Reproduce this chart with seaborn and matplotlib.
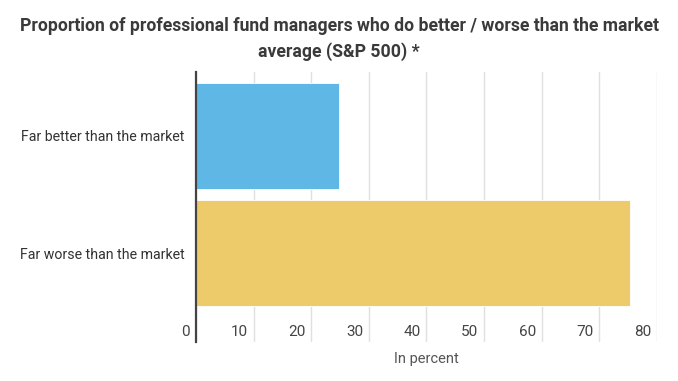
import matplotlib.pyplot as plt
import pandas as pd
import seaborn as sns

categories = ['Far better than the market', 'Far worse than the market']
values = [24.8, 75.4]
colors = ['#5EB7E4', '#EDCB6A']
ticks = [0, 10, 20, 30, 40, 50, 60, 70, 80]

df = pd.DataFrame({'category': categories, 'value': values})

sns.set_style('white')
plt.rcParams['font.family'] = ['Roboto', 'DejaVu Sans']

fig = plt.figure(figsize=(6.78, 3.81), dpi=100)
ax = fig.add_axes([0.289, 0.1024, 0.680, 0.7086])

sns.barplot(data=df, y='category', x='value', hue='category', palette=colors,
            order=categories, width=0.9, legend=False, ax=ax, zorder=3,
            saturation=1, edgecolor='#ffffff', linewidth=0.6)

ax.set_xlim(0, 80)
ax.set_ylim(1.756, -0.543)
ax.set_xticks(ticks)
ax.set_xticklabels([])
ax.tick_params(axis='both', length=0)
ax.grid(axis='x', color='#e0e0e0', linewidth=1, zorder=0)
trans = ax.get_xaxis_transform()
for t in ticks:
    ax.text(t - 1.0, 0.037, str(t), transform=trans, ha='right', va='center',
            fontsize=11, color='#444444')
for s in ['top', 'right', 'bottom']:
    ax.spines[s].set_visible(False)
ax.spines['left'].set_color('#444444')
ax.spines['left'].set_linewidth(1.6)
ax.spines['left'].set_zorder(4)

ax.set_ylabel('')
ax.set_xlabel('In percent', fontsize=10.5, color='#555555', labelpad=4)
ax.tick_params(axis='y', labelsize=10.2, labelcolor='#333333', pad=8)

fig.suptitle('Proportion of professional fund managers who do better / worse than the market\naverage (S&P 500) *',
             x=0.5, y=0.955, fontsize=12.7, fontweight='bold', color='#3a3a3a',
             linespacing=1.5)

fig.savefig('out.png', dpi=100)
